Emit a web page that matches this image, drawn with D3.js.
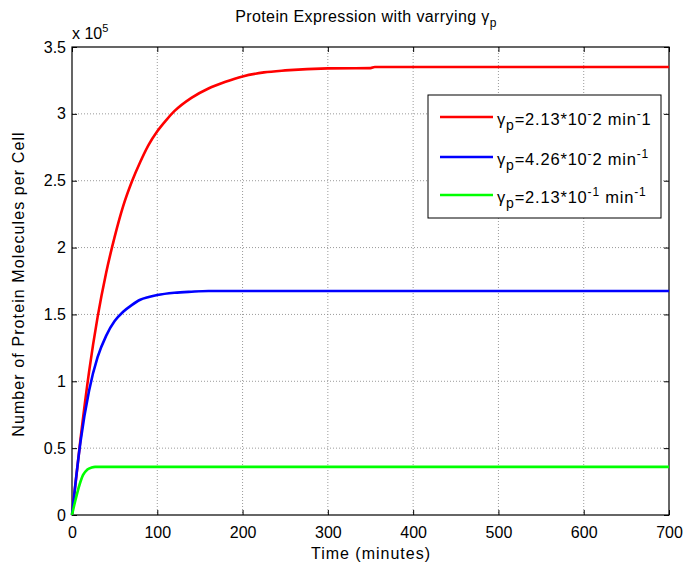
<!DOCTYPE html>
<html>
<head>
<meta charset="utf-8">
<script src="https://cdn.jsdelivr.net/npm/d3@7"></script>
<style>
  body { margin: 0; background: #fff; }
  text { font-family: "Liberation Sans", Arial, sans-serif; }
</style>
</head>
<body>
<svg id="app"></svg>
<script>
// time (minutes) and protein count (x 1e5)
const tRed = [0, 10, 20, 30, 40, 50, 60, 70, 80, 90, 100, 110, 120, 140, 160, 180, 200, 225, 250, 300, 350, 355, 700];
const pRed = [0, 0.57, 1.07, 1.48, 1.81, 2.08, 2.31, 2.49, 2.64, 2.77, 2.87, 2.95, 3.02, 3.12, 3.19, 3.24, 3.28, 3.31, 3.325, 3.34, 3.342, 3.35, 3.35];

const tBlue = [0, 10, 20, 30, 40, 50, 60, 70, 80, 90, 100, 120, 140, 160, 700];
const pBlue = [0, 0.55, 0.93, 1.18, 1.34, 1.45, 1.52, 1.57, 1.61, 1.63, 1.645, 1.662, 1.67, 1.675, 1.675];

const tGreen = [0, 4, 9, 13, 18, 23, 27, 700];
const pGreen = [0, 0.11, 0.23, 0.3, 0.34, 0.355, 0.36, 0.36];

const xTicks = [0, 100, 200, 300, 400, 500, 600, 700];
const yTicks = [0, 0.5, 1, 1.5, 2, 2.5, 3, 3.5];

const W = 684, H = 566;
const pL = 72, pR = 669, pT = 47, pB = 515;

const svg = d3.select("#app").attr("width", W).attr("height", H);

const x = d3.scaleLinear().domain([0, 700]).range([pL, pR]);
const y = d3.scaleLinear().domain([0, 3.5]).range([pB, pT]);

// grid
const grid = svg.append("g").attr("stroke", "#808080").attr("stroke-width", 0.8)
    .attr("stroke-dasharray", "1,2");
xTicks.slice(1, -1).forEach(v => {
    grid.append("line").attr("x1", x(v)).attr("x2", x(v)).attr("y1", pT).attr("y2", pB);
});
yTicks.slice(1, -1).forEach(v => {
    grid.append("line").attr("x1", pL).attr("x2", pR).attr("y1", y(v)).attr("y2", y(v));
});

// axes
svg.append("g").attr("transform", `translate(0,${pB})`)
    .call(d3.axisBottom(x).tickValues(xTicks).tickSize(-5).tickPadding(12).tickFormat(d3.format("d")))
    .call(g => g.select(".domain").remove());
svg.append("g").attr("transform", `translate(${pL},0)`)
    .call(d3.axisLeft(y).tickValues(yTicks).tickSize(-5).tickPadding(6).tickFormat(d => d))
    .call(g => g.select(".domain").remove());
svg.append("g").attr("transform", `translate(0,${pT})`)
    .call(d3.axisTop(x).tickValues(xTicks).tickSize(-5).tickFormat(""))
    .call(g => g.select(".domain").remove());
svg.append("g").attr("transform", `translate(${pR},0)`)
    .call(d3.axisRight(y).tickValues(yTicks).tickSize(-5).tickFormat(""))
    .call(g => g.select(".domain").remove());

svg.selectAll(".tick text").attr("font-size", 16).attr("fill", "#000")
    .style("font-family", "Liberation Sans, Arial, sans-serif");
svg.selectAll(".tick line").attr("stroke", "#000");

svg.append("rect").attr("x", pL).attr("y", pT)
    .attr("width", pR - pL).attr("height", pB - pT)
    .attr("fill", "none").attr("stroke", "#000").attr("stroke-width", 1.2);

// lines
const line = d3.line().x(d => x(d[0])).y(d => y(d[1])).curve(d3.curveMonotoneX);
const series = [
    {t: tRed, p: pRed, c: "#ff0000"},
    {t: tBlue, p: pBlue, c: "#0000ff"},
    {t: tGreen, p: pGreen, c: "#00ff00"}
];
series.forEach(s => {
    svg.append("path")
        .datum(s.t.map((t, i) => [t, s.p[i]]))
        .attr("d", line)
        .attr("fill", "none").attr("stroke", s.c).attr("stroke-width", 2.6);
});

// exponent label
const ex = svg.append("text").attr("x", 72).attr("y", 39).attr("font-size", 16);
ex.append("tspan").text("x 10");
ex.append("tspan").attr("dy", -7).attr("font-size", 11).text("5");

// title
const title = svg.append("text").attr("x", 366).attr("y", 22).attr("text-anchor", "middle")
    .attr("font-size", 16).attr("letter-spacing", 0.4);
title.append("tspan").text("Protein Expression with varrying \u03B3");
title.append("tspan").attr("dy", 5).attr("font-size", 12).text("p");

// axis labels
svg.append("text").attr("x", 371).attr("y", 559).attr("text-anchor", "middle")
    .attr("font-size", 16).attr("letter-spacing", 1).text("Time (minutes)");
svg.append("text").attr("transform", `translate(24,284) rotate(-90)`)
    .attr("text-anchor", "middle").attr("font-size", 16).attr("letter-spacing", 1.1)
    .text("Number of Protein Molecules per Cell");

// legend
const leg = svg.append("g");
leg.append("rect").attr("x", 428).attr("y", 95).attr("width", 233).attr("height", 123)
    .attr("fill", "#fff").attr("stroke", "#000").attr("stroke-width", 1);
const labels = [
    [["=2.13*10", 0], ["-", 1], ["2 min", 0], ["-", 1], ["1", 0]],
    [["=4.26*10", 0], ["-", 1], ["2 min", 0], ["-1", 1]],
    [["=2.13*10", 0], ["-1", 1], [" min", 0], ["-1", 1]]
];
const legY = [117, 157, 195];
series.forEach((s, i) => {
    leg.append("line").attr("x1", 440).attr("x2", 493).attr("y1", legY[i]).attr("y2", legY[i])
        .attr("stroke", s.c).attr("stroke-width", 2.6);
    const t = leg.append("text").attr("x", 497).attr("y", legY[i] + 8)
        .attr("font-size", 16.5).attr("letter-spacing", 0.8);
    t.append("tspan").text("\u03B3");
    t.append("tspan").attr("dy", 5).attr("font-size", 14).text("p");
    let shift = 5;
    labels[i].forEach(([txt, sup]) => {
        const target = sup ? -7 : 0;
        t.append("tspan").attr("dy", target - shift).attr("font-size", sup ? 12 : 16.5).text(txt);
        shift = target;
    });
});
</script>
</body>
</html>
